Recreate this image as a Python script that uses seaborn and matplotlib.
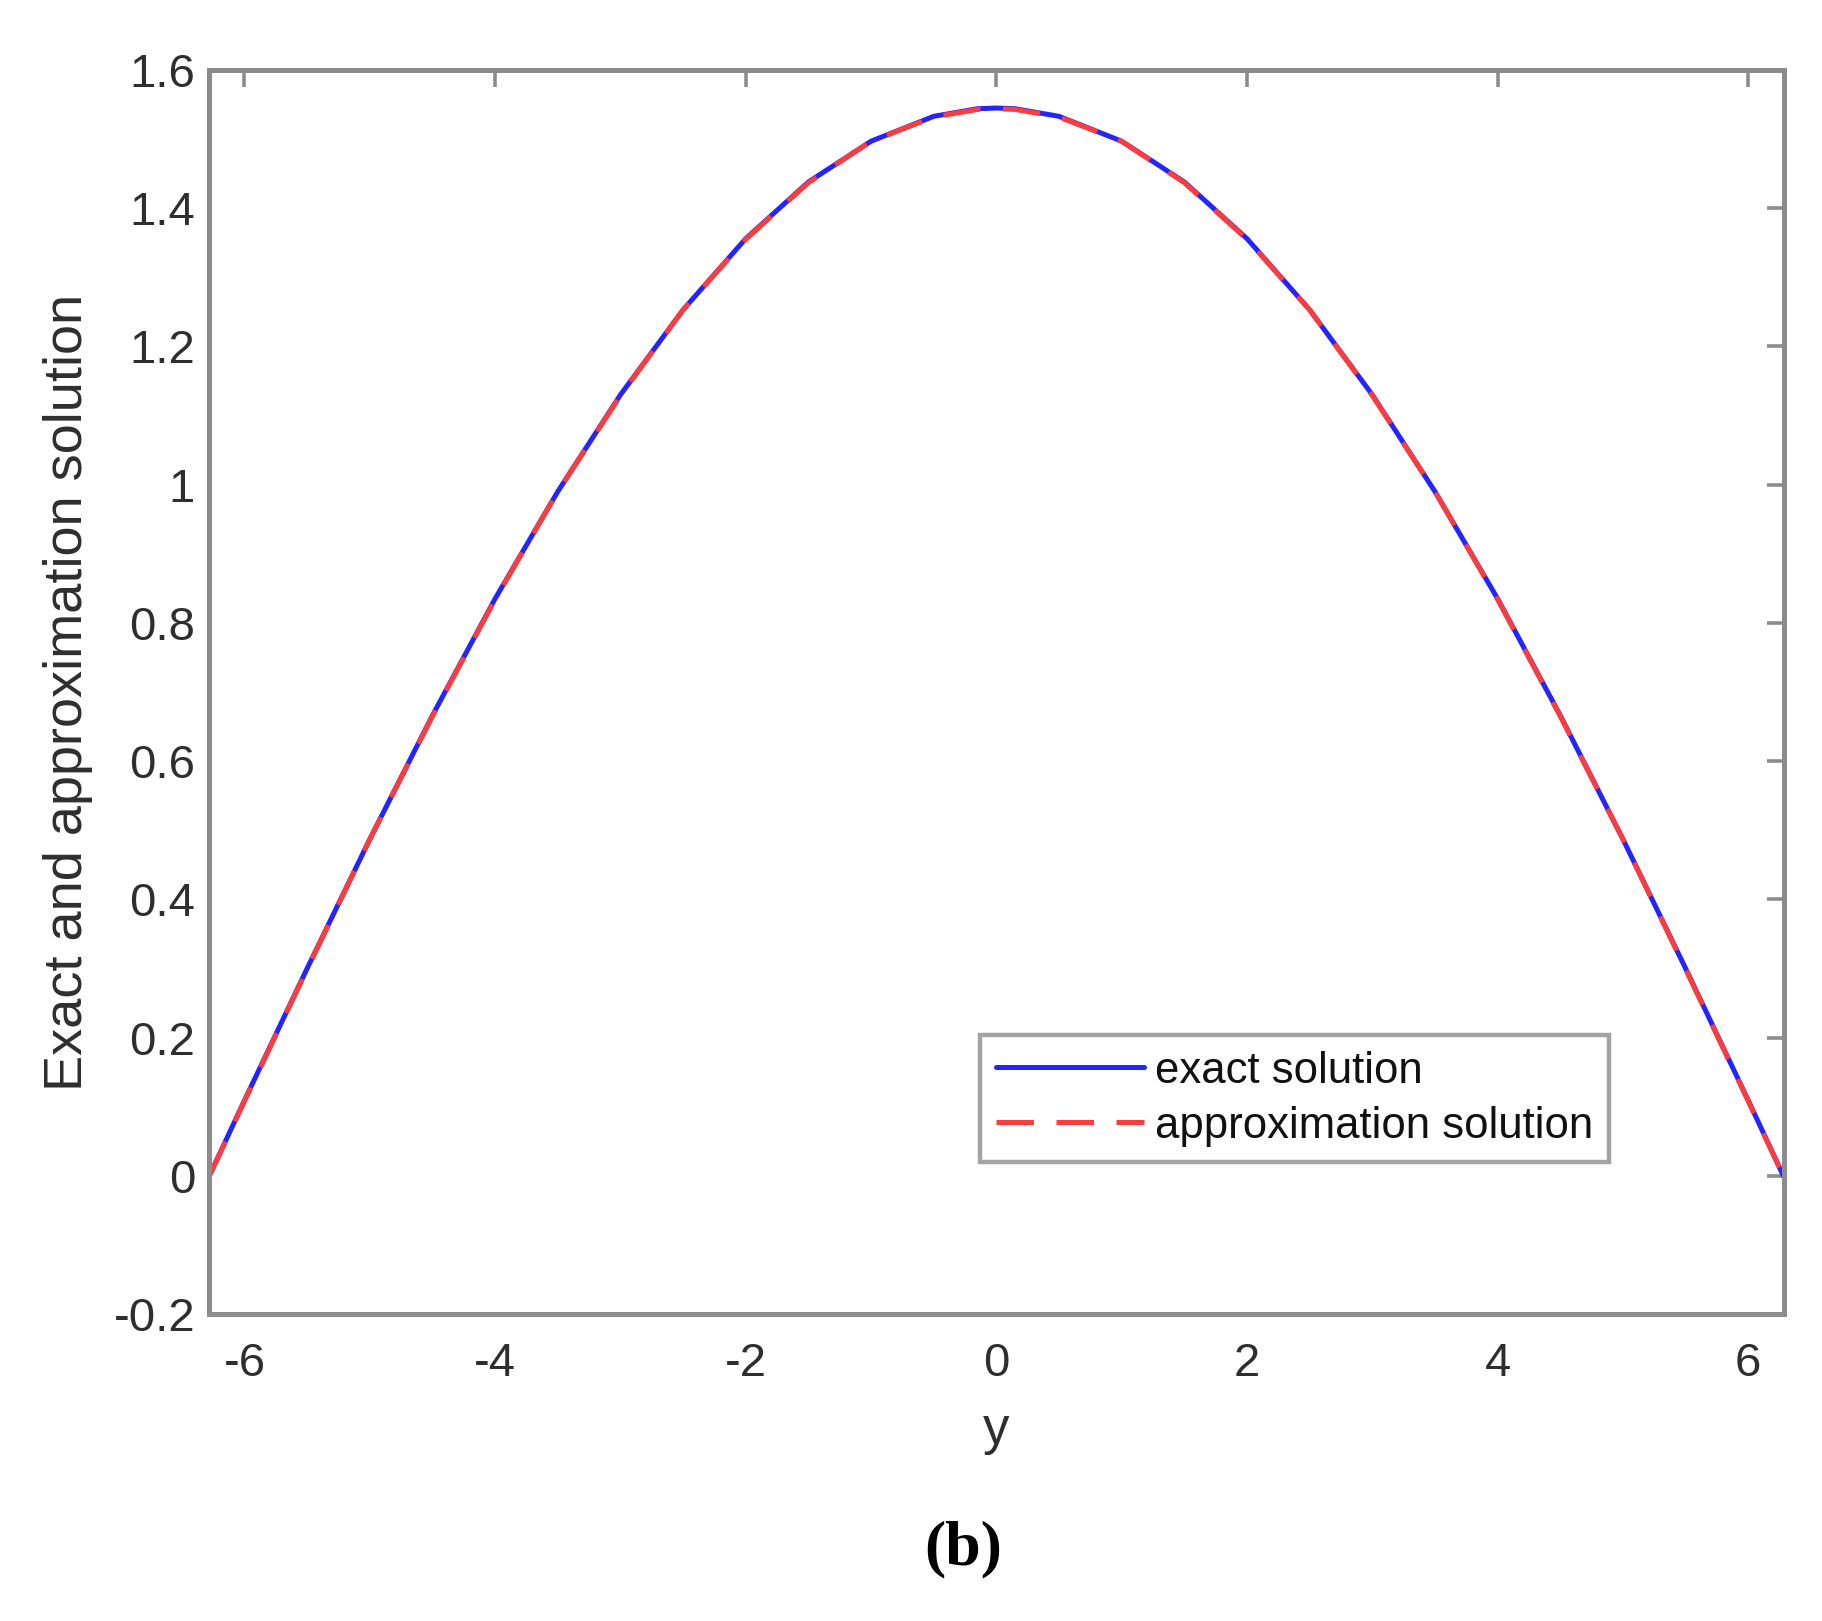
import numpy as np
import pandas as pd
import matplotlib
matplotlib.use("Agg")
import matplotlib.pyplot as plt
import seaborn as sns

# values
y_points = [-6.28, -6.0, -5.5, -5.0, -4.5, -4.0, -3.5, -3.0, -2.5, -2.0, -1.5, -1.0, -0.5,
            -0.15, 0.0, 0.15, 0.5, 1.0, 1.5, 2.0, 2.5, 3.0, 3.5, 4.0, 4.5, 5.0, 5.5, 6.0, 6.28]
exact = [0.0, 0.109, 0.300, 0.487, 0.666, 0.835, 0.990, 1.130, 1.253, 1.356, 1.438, 1.497, 1.533,
         1.544, 1.545, 1.544, 1.533, 1.497, 1.438, 1.356, 1.253, 1.130, 0.990, 0.835, 0.666, 0.487, 0.300, 0.109, 0.0]
approx = [0.0, 0.108, 0.299, 0.487, 0.665, 0.834, 0.990, 1.129, 1.253, 1.355, 1.437, 1.497, 1.532,
          1.543, 1.544, 1.543, 1.532, 1.497, 1.437, 1.355, 1.253, 1.129, 0.990, 0.834, 0.665, 0.487, 0.299, 0.108, 0.0]

x_ticks = [-6, -4, -2, 0, 2, 4, 6]
y_ticks = [-0.2, 0, 0.2, 0.4, 0.6, 0.8, 1, 1.2, 1.4, 1.6]
y_tick_labels = ["-0.2", "0", "0.2", "0.4", "0.6", "0.8", "1", "1.2", "1.4", "1.6"]

df = pd.DataFrame({"y": y_points, "exact": exact, "approx": approx})

sns.set_style("white")
plt.rcParams["font.family"] = ["Liberation Sans", "DejaVu Sans"]

axis_grey = "#8c8c8c"
text_col = "#2e2e2e"

fig = plt.figure(figsize=(18.22, 16.21), dpi=100)
ax = fig.add_axes([0.1147, 0.1894, 0.8643, 0.7674])

sns.lineplot(data=df, x="y", y="exact", ax=ax, color="#2424ff", linewidth=3.6,
             label="exact solution", sort=False)
sns.lineplot(data=df, x="y", y="approx", ax=ax, color="#ff3c3c", linewidth=3.6,
             label="approximation solution", sort=False)
ax.lines[1].set_dashes((7.5, 4.5))

ax.set_xlim(-2 * np.pi, 2 * np.pi)
ax.set_ylim(-0.2, 1.6)
ax.set_xticks(x_ticks)
ax.set_yticks(y_ticks)
ax.set_xticklabels([str(t) for t in x_ticks])
ax.set_yticklabels(y_tick_labels)

for s in ax.spines.values():
    s.set_color(axis_grey)
    s.set_linewidth(3.6)
ax.tick_params(direction="in", length=12, width=2.6, color=axis_grey,
               top=True, right=True, labelsize=34, labelcolor=text_col)
ax.tick_params(axis="x", pad=20)
ax.tick_params(axis="y", pad=10)

ax.set_xlabel("y", fontsize=38, color=text_col, labelpad=14)
ax.set_ylabel("Exact and approximation solution", fontsize=39, color=text_col, labelpad=15)

leg = ax.legend(loc="lower right", bbox_to_anchor=(0.889, 0.1223), fontsize=31.5,
                frameon=True, fancybox=False, shadow=False, handlelength=3.4,
                handletextpad=0.25, borderpad=0.35, labelspacing=0.32, borderaxespad=0)
leg.get_frame().set_edgecolor(axis_grey)
leg.get_frame().set_linewidth(3.2)
for t in leg.get_texts():
    t.set_color("#111111")

fig.text(0.5287, 0.044, "(b)", ha="center", va="center", fontsize=46, color="black",
         fontweight="bold", family=["Liberation Serif", "DejaVu Serif"])

fig.savefig("out.png", dpi=100)
